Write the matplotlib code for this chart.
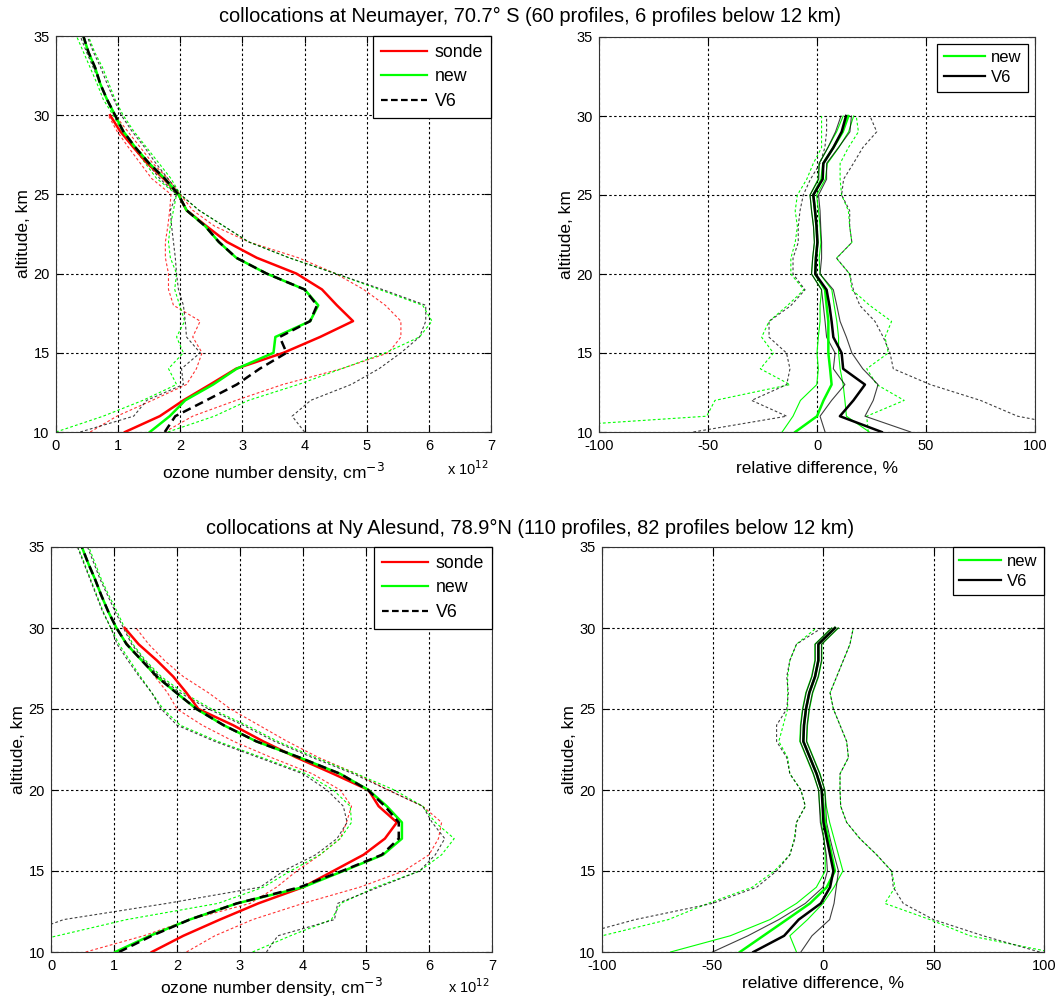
import numpy as np
import matplotlib
matplotlib.use("Agg")
import matplotlib.pyplot as plt
from matplotlib.lines import Line2D

plt.rcParams['font.family'] = ['Liberation Sans', 'DejaVu Sans']
NARROW = ['Liberation Sans Narrow', 'Liberation Sans', 'DejaVu Sans']

# ---------------- data ----------------
alt_sonde = np.arange(10, 31)   # 10..30 km
alt_sat = np.arange(10, 36)     # 10..35 km
alt_diff = np.arange(10, 31)

# Neumayer, ozone number density (x 1e12 cm-3)
nm_sonde = [1.11, 1.67, 2.05, 2.48, 2.90, 3.66, 4.25, 4.78, 4.52, 4.28, 3.87,
            3.23, 2.75, 2.42, 2.10, 1.97, 1.73, 1.46, 1.24, 1.03, 0.87]
nm_sonde_lo = [0.55, 0.98, 1.55, 2.10, 2.26, 2.35, 2.20, 2.32, 1.89, 1.81, 1.81,
               1.76, 1.76, 1.80, 1.83, 1.85, 1.54, 1.35, 1.16, 0.98, 0.84]
nm_sonde_hi = [1.75, 2.20, 2.90, 3.65, 4.60, 5.35, 5.55, 5.55, 5.30, 4.95, 4.50,
               3.90, 3.10, 2.55, 2.20, 2.00, 1.80, 1.55, 1.35, 1.15, 0.95]
nm_new = [1.51, 1.83, 2.08, 2.53, 2.91, 3.50, 3.53, 4.09, 4.22, 4.00, 3.39,
          2.90, 2.62, 2.40, 2.10, 1.97, 1.75, 1.49, 1.27, 1.08, 0.95,
          0.82, 0.71, 0.63, 0.52, 0.44]
nm_new_lo = [0.00, 0.76, 1.40, 1.94, 1.81, 2.05, 1.94, 2.07, 1.99, 1.91, 1.94,
             1.84, 1.81, 1.84, 1.89, 1.94, 1.62, 1.43, 1.24, 1.06, 0.92,
             0.76, 0.66, 0.55, 0.44, 0.33]
nm_new_hi = [1.80, 2.55, 3.10, 3.90, 4.60, 5.30, 5.85, 6.05, 5.90, 5.20, 4.50,
             3.75, 3.10, 2.70, 2.30, 2.00, 1.85, 1.65, 1.45, 1.25, 1.08,
             0.95, 0.85, 0.75, 0.62, 0.52]
nm_v6 = [1.75, 1.92, 2.42, 2.91, 3.28, 3.71, 3.60, 4.09, 4.20, 4.00, 3.39,
         2.90, 2.62, 2.40, 2.10, 1.97, 1.75, 1.49, 1.27, 1.08, 0.95,
         0.82, 0.71, 0.63, 0.52, 0.44]
nm_v6_lo = [0.39, 1.25, 1.46, 2.05, 2.02, 2.32, 2.10, 2.08, 2.05, 1.97, 1.94,
            1.92, 1.89, 1.86, 1.84, 1.94, 1.67, 1.46, 1.27, 1.08, 0.95,
            0.82, 0.71, 0.60, 0.49, 0.39]
nm_v6_hi = [4.00, 3.80, 4.10, 4.75, 5.20, 5.55, 5.85, 5.95, 5.95, 5.25, 4.50,
            3.75, 3.10, 2.70, 2.30, 2.00, 1.80, 1.60, 1.42, 1.22, 1.05,
            0.93, 0.82, 0.72, 0.60, 0.50]

# Neumayer, relative difference (%)
nm_d_new = [-10.0, 0.0, 3.0, 6.7, 6.0, 5.2, 5.2, 5.2, 4.4, 3.7, -0.8,
            -0.5, 0.2, -0.2, -0.9, -1.7, 2.1, 2.9, 7.5, 11.8, 14.4]
nm_d_new_lo = [-16.0, -11.0, -7.6, -0.1, 0.6, 0.0, 0.6, 1.4, 1.4, 2.1, -2.5,
               -2.0, -1.2, -1.6, -2.5, -3.2, 0.5, 1.0, 5.0, 9.0, 12.0]
nm_d_new_hi = [24.0, 13.5, 12.8, 12.0, 10.6, 9.9, 9.9, 9.1, 7.9, 6.8, 1.4,
               1.0, 1.8, 1.4, 0.7, -0.2, 3.8, 4.8, 10.0, 14.5, 16.8]
nm_d_v6 = [29.7, 10.5, 16.7, 22.0, 12.0, 11.3, 7.5, 6.7, 5.7, 4.4, -0.8,
           -0.5, 0.2, -0.2, -0.9, -1.7, 2.6, 2.9, 7.5, 11.3, 13.3]
nm_d_v6_lo = [3.7, 1.4, 6.7, 12.8, 7.5, 8.3, 4.4, 3.7, 2.9, 2.1, -2.5,
              -2.0, -1.2, -1.6, -2.5, -3.2, 0.8, 1.0, 5.0, 8.5, 11.0]
nm_d_v6_hi = [43.0, 22.0, 25.8, 28.0, 21.0, 16.0, 13.5, 10.6, 9.1, 7.5, 1.4,
              2.1, 2.1, 1.7, 1.4, 0.7, 4.4, 4.4, 9.8, 15.1, 15.8]
nm_d_new_sdlo = [-160.0, -50.6, -46.8, -12.4, -26.0, -20.0, -25.4, -22.0, -13.6, -6.0, -12.0,
                 -12.0, -10.0, -9.0, -10.0, -9.0, -4.7, -1.7, 2.1, 2.1, 2.1]
nm_d_new_sdhi = [23.5, 22.8, 40.0, 27.4, 22.8, 32.7, 31.2, 34.2, 24.3, 16.0, 15.0,
                 8.9, 16.0, 15.0, 14.4, 11.3, 10.6, 10.6, 14.4, 19.0, 18.0]
nm_d_v6_sdlo = [-56.7, -13.9, -30.0, -13.9, -12.4, -14.0, -22.0, -22.0, -12.0, -5.5, -11.0,
                -11.0, -8.6, -8.6, -7.8, -6.3, -3.0, 1.4, 3.6, 4.4, 4.4]
nm_d_v6_sdhi = [130.0, 92.0, 75.0, 52.0, 35.0, 33.5, 30.4, 26.6, 19.7, 16.7, 15.0,
                9.0, 16.0, 15.0, 15.0, 11.3, 12.2, 16.7, 21.0, 27.4, 24.3]

# Ny Alesund, ozone number density (x 1e12 cm-3)
na_sonde = [1.60, 2.10, 2.68, 3.29, 4.00, 4.48, 4.96, 5.30, 5.49, 5.20, 5.04,
            4.48, 3.90, 3.37, 2.89, 2.34, 2.15, 1.94, 1.68, 1.39, 1.17]
na_sonde_lo = [0.55, 1.47, 2.20, 3.16, 3.58, 3.90, 4.27, 4.59, 4.69, 4.77, 4.59,
               4.15, 3.50, 2.90, 2.40, 2.00, 1.85, 1.65, 1.45, 1.22, 1.02]
na_sonde_hi = [2.15, 2.60, 3.20, 4.00, 4.90, 5.60, 6.00, 6.15, 6.20, 5.90, 5.35,
               4.85, 4.25, 3.75, 3.30, 2.85, 2.50, 2.10, 1.80, 1.55, 1.35]
na_new = [1.02, 1.57, 2.20, 2.95, 4.00, 4.64, 5.27, 5.57, 5.57, 5.33, 5.04,
          4.59, 3.95, 3.26, 2.74, 2.31, 1.99, 1.68, 1.44, 1.20, 1.04,
          0.91, 0.80, 0.70, 0.59, 0.49]
na_new_lo = [-1.00, 0.10, 1.20, 2.65, 3.37, 3.80, 4.27, 4.59, 4.77, 4.75, 4.48,
             4.05, 3.35, 2.65, 2.05, 1.78, 1.60, 1.42, 1.25, 1.08, 0.95,
             0.83, 0.73, 0.63, 0.53, 0.43]
na_new_hi = [3.20, 3.80, 4.45, 4.60, 5.15, 5.85, 6.20, 6.40, 6.10, 5.90, 5.45,
             4.85, 4.20, 3.60, 3.10, 2.55, 2.10, 1.75, 1.50, 1.30, 1.17,
             1.05, 0.92, 0.80, 0.70, 0.60]
na_v6 = [1.08, 1.60, 2.20, 2.95, 3.95, 4.62, 5.25, 5.52, 5.52, 5.30, 5.03,
         4.59, 3.95, 3.26, 2.74, 2.31, 1.99, 1.68, 1.44, 1.20, 1.04,
         0.91, 0.80, 0.70, 0.59, 0.49]
na_v6_lo = [-1.20, -0.50, 0.20, 1.84, 3.32, 3.69, 4.20, 4.54, 4.70, 4.64, 4.38,
            4.00, 3.30, 2.60, 2.00, 1.75, 1.60, 1.40, 1.22, 1.05, 0.95,
            0.82, 0.72, 0.62, 0.52, 0.42]
na_v6_hi = [3.42, 3.60, 4.50, 4.55, 5.20, 5.85, 6.10, 6.25, 6.05, 5.90, 5.35,
            4.80, 4.15, 3.55, 3.05, 2.50, 2.05, 1.72, 1.48, 1.28, 1.15,
            1.02, 0.90, 0.78, 0.68, 0.58]

# Ny Alesund, relative difference (%)
na_d_new = [-37.6, -27.0, -16.4, -5.9, 1.7, 5.4, 3.9, 2.4, 0.9, 0.2, -0.6,
            -2.9, -5.9, -8.9, -8.6, -7.7, -6.2, -3.6, -2.1, -2.1, 5.4]
na_d_new_lo = [-69.0, -42.0, -24.0, -12.0, -3.0, 1.0, 1.0, 0.5, -0.8, -1.5, -2.0,
               -4.5, -7.5, -10.5, -10.2, -9.3, -7.8, -5.2, -3.7, -3.7, 3.8]
na_d_new_hi = [-12.0, -15.0, -7.0, 0.0, 5.0, 9.0, 7.0, 5.0, 3.0, 1.5, 0.8,
               -1.3, -4.3, -7.3, -7.0, -6.1, -4.6, -2.0, -0.5, -0.5, 7.0]
na_d_v6 = [-31.5, -17.6, -11.0, -1.0, 3.2, 4.7, 3.2, 1.7, 0.2, -0.2, -0.6,
           -2.9, -5.9, -8.9, -8.6, -7.7, -6.2, -3.6, -2.1, -2.1, 5.4]
na_d_v6_lo = [-50.0, -34.0, -20.0, -8.0, 0.0, 2.0, 1.5, 0.3, -1.2, -1.6, -2.0,
              -4.3, -7.3, -10.3, -10.0, -9.1, -7.6, -5.0, -3.5, -3.5, 4.0]
na_d_v6_hi = [-10.0, -5.0, 3.0, 5.0, 6.0, 7.0, 5.0, 3.2, 1.6, 1.2, 0.8,
              -1.5, -4.5, -7.5, -7.2, -6.3, -4.8, -2.2, -0.7, -0.7, 6.8]
na_d_new_sdlo = [-130.0, -100.0, -70.0, -52.0, -32.0, -22.0, -15.0, -13.0, -12.0, -8.0, -10.0,
                 -15.0, -16.0, -20.0, -18.0, -16.0, -16.0, -16.0, -15.0, -12.0, -3.0]
na_d_new_sdhi = [103.0, 66.5, 48.4, 28.0, 32.6, 31.0, 24.3, 16.7, 10.7, 8.0, 7.7,
                 7.7, 11.5, 10.7, 7.7, 4.7, 3.2, 6.2, 9.2, 12.2, 13.7]
na_d_v6_sdlo = [-160.0, -112.0, -85.0, -50.0, -30.0, -21.0, -15.0, -12.7, -12.0, -8.0, -10.0,
                -15.0, -16.4, -21.0, -21.0, -16.4, -15.7, -16.4, -15.0, -12.0, -0.6]
na_d_v6_sdhi = [98.0, 72.5, 50.0, 36.3, 31.8, 31.0, 24.3, 16.7, 10.7, 8.0, 7.7,
                7.7, 11.5, 10.7, 7.7, 4.7, 3.2, 6.2, 9.2, 12.2, 13.7]

RED = (1.0, 0.0, 0.0)
GREEN = (0.0, 1.0, 0.0)
BLACK = (0.0, 0.0, 0.0)
GRID_DASH = (0, (2.2, 2.2))
THIN_DASH = (0, (2.5, 2.0))
TICKFS = 10.5
LABFS = 12.5


def style_axes(ax, xlim, xticks, xticklabels, xlabel, labelpad):
    ax.set_xlim(*xlim)
    ax.set_ylim(10, 35)
    ax.set_xticks(xticks)
    ax.set_xticklabels(xticklabels, fontsize=TICKFS, family=NARROW)
    ax.set_yticks([10, 15, 20, 25, 30, 35])
    ax.set_yticklabels(['10', '15', '20', '25', '30', '35'], fontsize=TICKFS, family=NARROW)
    ax.grid(True, color='black', linestyle=GRID_DASH, linewidth=0.8)
    ax.tick_params(direction='in', length=5, width=0.8, top=True, right=True)
    ax.tick_params(axis='x', pad=5)
    ax.tick_params(axis='y', pad=4.5)
    for s in ax.spines.values():
        s.set_linewidth(0.8)
        s.set_color('#333333')
    ax.set_ylabel('altitude, km', fontsize=LABFS, labelpad=2)
    ax.set_xlabel(xlabel, fontsize=LABFS, labelpad=labelpad)


def density_panel(ax, sonde, sonde_lo, sonde_hi, new, new_lo, new_hi, v6, v6_lo, v6_hi,
                  labelpad, exp_y):
    # spread (thin dashed)
    ax.plot(sonde_lo, alt_sonde, color=RED, ls=THIN_DASH, lw=0.8, alpha=0.8)
    ax.plot(sonde_hi, alt_sonde, color=RED, ls=THIN_DASH, lw=0.8, alpha=0.8)
    ax.plot(new_lo, alt_sat, color=GREEN, ls=THIN_DASH, lw=0.8)
    ax.plot(new_hi, alt_sat, color=GREEN, ls=THIN_DASH, lw=0.8)
    ax.plot(v6_lo, alt_sat, color=BLACK, ls=THIN_DASH, lw=0.8, alpha=0.75)
    ax.plot(v6_hi, alt_sat, color=BLACK, ls=THIN_DASH, lw=0.8, alpha=0.75)
    # means
    ax.plot(sonde, alt_sonde, color=RED, lw=1.8)
    ax.plot(new, alt_sat, color=GREEN, lw=1.8)
    ax.plot(v6, alt_sat, color=BLACK, lw=1.8, ls=(0, (3.5, 2)))
    style_axes(ax, (0, 7), range(0, 8), [str(i) for i in range(0, 8)],
               'ozone number density, cm$^{-3}$', labelpad)
    ax.text(0.995, exp_y, r'x 10$^{12}$', transform=ax.transAxes, ha='right', va='center',
            fontsize=TICKFS, family=NARROW)
    handles = [Line2D([], [], color=RED, lw=1.6),
               Line2D([], [], color=GREEN, lw=1.6),
               Line2D([], [], color=BLACK, lw=1.6, ls=(0, (3, 1.5)))]
    leg = ax.legend(handles, ['sonde', 'new', 'V6'], loc='upper right', fontsize=12.8,
                    fancybox=False, framealpha=1, edgecolor='black', borderaxespad=0.0,
                    handlelength=2.55, handletextpad=0.45, labelspacing=0.42,
                    borderpad=0.45)
    leg.get_frame().set_linewidth(0.9)


def diff_panel(ax, d_new, d_new_lo, d_new_hi, d_v6, d_v6_lo, d_v6_hi,
               sd_new_lo, sd_new_hi, sd_v6_lo, sd_v6_hi, legend_pad, labelpad):
    ax.plot(sd_new_lo, alt_diff, color=GREEN, ls=THIN_DASH, lw=0.8)
    ax.plot(sd_new_hi, alt_diff, color=GREEN, ls=THIN_DASH, lw=0.8)
    ax.plot(sd_v6_lo, alt_diff, color=BLACK, ls=THIN_DASH, lw=0.8, alpha=0.75)
    ax.plot(sd_v6_hi, alt_diff, color=BLACK, ls=THIN_DASH, lw=0.8, alpha=0.75)
    ax.plot(d_new_lo, alt_diff, color=GREEN, lw=0.8)
    ax.plot(d_new_hi, alt_diff, color=GREEN, lw=0.8)
    ax.plot(d_v6_lo, alt_diff, color=BLACK, lw=0.8, alpha=0.75)
    ax.plot(d_v6_hi, alt_diff, color=BLACK, lw=0.8, alpha=0.75)
    ax.plot(d_new, alt_diff, color=GREEN, lw=1.8)
    ax.plot(d_v6, alt_diff, color=BLACK, lw=1.8)
    style_axes(ax, (-100, 100), [-100, -50, 0, 50, 100], ['-100', '-50', '0', '50', '100'],
               'relative difference, %', labelpad)
    handles = [Line2D([], [], color=GREEN, lw=1.6),
               Line2D([], [], color=BLACK, lw=1.6)]
    leg = ax.legend(handles, ['new', 'V6'], loc='upper right', fontsize=12.0,
                    fancybox=False, framealpha=1, edgecolor='black', borderaxespad=legend_pad,
                    handlelength=2.5, handletextpad=0.35, labelspacing=0.3,
                    borderpad=0.4)
    leg.get_frame().set_linewidth(0.9)


fig = plt.figure(figsize=(10.58, 9.99), dpi=100)
W, H = 1058.0, 999.0


def add_ax(left, right, top, bottom):
    return fig.add_axes([left / W, 1 - bottom / H, (right - left) / W, (bottom - top) / H])


ax1 = add_ax(56, 491, 36, 432)
ax2 = add_ax(599, 1035, 37, 432)
ax3 = add_ax(51, 492, 547, 952)
ax4 = add_ax(602, 1044, 547, 952)

density_panel(ax1, nm_sonde, nm_sonde_lo, nm_sonde_hi, nm_new, nm_new_lo, nm_new_hi,
              nm_v6, nm_v6_lo, nm_v6_hi, 5.5, -0.092)
diff_panel(ax2, nm_d_new, nm_d_new_lo, nm_d_new_hi, nm_d_v6, nm_d_v6_lo, nm_d_v6_hi,
           nm_d_new_sdlo, nm_d_new_sdhi, nm_d_v6_sdlo, nm_d_v6_sdhi, 0.4, 5.5)
density_panel(ax3, na_sonde, na_sonde_lo, na_sonde_hi, na_new, na_new_lo, na_new_hi,
              na_v6, na_v6_lo, na_v6_hi, 2.0, -0.085)
diff_panel(ax4, na_d_new, na_d_new_lo, na_d_new_hi, na_d_v6, na_d_v6_lo, na_d_v6_hi,
           na_d_new_sdlo, na_d_new_sdhi, na_d_v6_sdlo, na_d_v6_sdhi, 0.0, 2.0)

fig.text(530 / W, 1 - 16 / H, 'collocations at Neumayer, 70.7\u00b0 S (60 profiles, 6 profiles below 12 km)',
         ha='center', va='center', fontsize=14.4)
fig.text(530 / W, 1 - 528 / H, 'collocations at Ny Alesund, 78.9\u00b0N (110 profiles, 82 profiles below 12 km)',
         ha='center', va='center', fontsize=14.4)

fig.savefig('out.png', dpi=100)
